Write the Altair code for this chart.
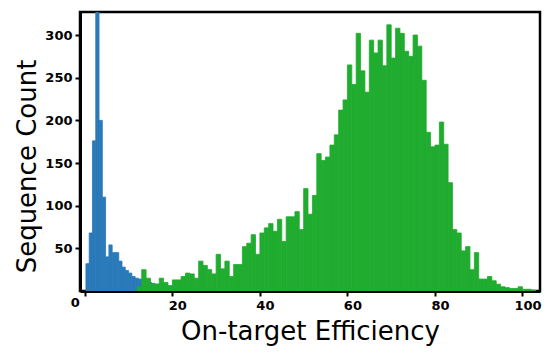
import altair as alt
import pandas as pd

# Green series: 1-unit bins starting at these efficiencies
green_bin_start = list(range(12, 103))
green_count = [5, 25, 15, 8, 8, 15, 10, 6, 13, 13,
               17, 21, 20, 15, 35, 30, 25, 20, 43, 26,
               35, 17, 31, 31, 52, 56, 66, 43, 68, 74,
               79, 70, 84, 58, 87, 87, 93, 72, 120, 90,
               112, 161, 153, 157, 171, 183, 212, 224, 265, 242,
               302, 258, 233, 294, 279, 294, 264, 312, 273, 308,
               302, 281, 275, 300, 287, 247, 186, 169, 171, 198,
               172, 127, 72, 68, 47, 52, 25, 45, 14, 14,
               17, 12, 8, 5, 4, 3, 3, 5, 2, 2, 1]
green_width = 1.0

# Blue series: narrower bins
blue_count = [32, 68, 176, 420, 200, 110, 40, 54, 45, 45,
              35, 28, 24, 21, 17, 15, 14, 12, 11, 10,
              9, 8, 8, 7, 7, 6, 6, 6, 5, 5,
              5, 4, 4, 4, 3, 3, 3, 2, 2, 2,
              2, 1, 1, 1, 1]
blue_width = 0.75
blue_bin_start = [0.25 + blue_width * i for i in range(len(blue_count))]

x_ticks = [0, 20, 40, 60, 80, 100]
y_ticks = [50, 100, 150, 200, 250, 300]

BLUE = "#2a79b9"
GREEN = "#1fac2f"

green_df = pd.DataFrame({"start": green_bin_start, "count": green_count, "w": green_width})
blue_df = pd.DataFrame({"start": blue_bin_start, "count": blue_count, "w": blue_width})

xscale = alt.Scale(domain=[-1.1, 104], nice=False, zero=False)
yscale = alt.Scale(domain=[0, 327], nice=False)

xaxis = alt.Axis(
    values=x_ticks, title="On-target Efficiency", grid=False,
    labelFont="DejaVu Sans", labelFontWeight="bold", labelFontSize=13, labelColor="black",
    labelOffset={"condition": {"test": "datum.value === 0", "value": -10}, "value": 5},
    labelPadding={"condition": {"test": "datum.value === 0", "value": 0}, "value": 3},
    tickSize=5, tickWidth=2, tickColor="black",
    domainColor="black", domainWidth=3,
    titleFont="DejaVu Sans", titleFontSize=26, titleFontWeight="normal", titleColor="black",
    titleBaseline="alphabetic", titleY=48,
)
yaxis = alt.Axis(
    values=y_ticks, title="Sequence Count", grid=False,
    labelFont="DejaVu Sans", labelFontWeight="bold", labelFontSize=13, labelColor="black",
    labelPadding=3, tickSize=5, tickWidth=2, tickColor="black",
    domainColor="black", domainWidth=3,
    titleFont="DejaVu Sans", titleFontSize=26, titleFontWeight="normal", titleColor="black",
    titleBaseline="alphabetic", titleX=-45, titleY=154, titleAngle=270,
)

blue = alt.Chart(blue_df).transform_calculate(end="datum.start + datum.w").mark_rect(
    color=BLUE, stroke=BLUE, strokeWidth=0.8, clip=True
).encode(
    x=alt.X("start:Q", scale=xscale, axis=xaxis),
    x2="end:Q",
    y=alt.Y("count:Q", scale=yscale, axis=yaxis),
    y2=alt.datum(0),
)

green = alt.Chart(green_df).transform_calculate(end="datum.start + datum.w").mark_rect(
    color=GREEN, stroke=GREEN, strokeWidth=0.8, clip=True
).encode(
    x=alt.X("start:Q", scale=xscale, axis=xaxis),
    x2="end:Q",
    y=alt.Y("count:Q", scale=yscale, axis=yaxis),
    y2=alt.datum(0),
)

chart = alt.layer(blue, green).properties(
    width=460, height=279,
    autosize=alt.AutoSizeParams(type="none"),
    padding={"left": 72, "top": 4, "right": 4, "bottom": 55},
    background="white",
).configure_view(stroke="black", strokeWidth=2.5)

chart.save("out.html", embed_options={"renderer": "svg", "actions": False})
